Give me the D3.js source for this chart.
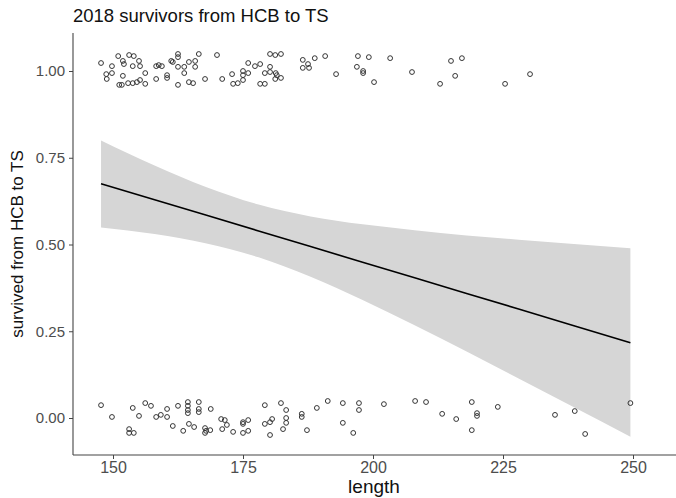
<!DOCTYPE html>
<html>
<head>
<meta charset="utf-8">
<script src="https://cdn.jsdelivr.net/npm/d3@7"></script>
<style>
  html, body { margin: 0; padding: 0; background: #fff; }
  svg { display: block; font-family: "Liberation Sans", Arial, sans-serif; }
</style>
</head>
<body>
<svg id="chart" width="676" height="498"></svg>
<script>
// Fish that reached TS (survived = 1), jittered vertically around 1
const lengthSurvived = [
  147.7, 151.0, 151.9, 152.1, 153.1, 154.0, 149.8, 153.8, 155.0, 155.2, 148.7,
  149.8, 148.8, 151.9, 156.2, 151.2, 151.7, 152.9, 153.8, 154.6, 155.2, 156.2,
  158.3, 158.8, 159.4, 158.3, 160.4, 160.4, 162.5, 162.5, 161.2, 161.5, 162.5,
  163.7, 164.6, 165.8, 165.8, 162.5, 163.7, 164.6, 165.4, 166.5, 167.7,
  170.0, 171.0, 172.9, 173.1, 174.0, 175.0, 175.0, 175.0, 176.0, 177.3, 178.3,
  176.0, 178.3, 179.2, 179.2, 180.2, 181.3, 180.2, 180.2, 181.2, 182.3, 182.3,
  181.2, 181.5,
  186.5, 187.5, 186.5, 187.7, 188.8, 190.8, 192.9, 197.1, 199.2, 196.9, 198.1,
  198.1, 200.2, 203.3, 207.5, 212.9, 215.0, 217.1, 215.8, 225.4, 230.2
];
const jitterSurvived = [
  1.023, 1.043, 1.029, 1.020, 1.046, 1.043, 1.014, 1.014, 1.029, 1.014, 0.991,
  0.994, 0.977, 0.986, 0.994, 0.960, 0.960, 0.965, 0.965, 0.968, 0.974, 0.963,
  1.014, 1.017, 1.014, 0.977, 0.988, 0.980, 1.049, 1.040, 1.029, 1.026, 1.012,
  1.012, 1.026, 1.029, 1.012, 0.960, 0.994, 0.968, 0.965, 1.049, 0.977,
  1.046, 0.977, 0.991, 0.963, 0.965, 1.000, 0.988, 0.974, 1.023, 1.014, 1.020,
  0.994, 0.963, 0.963, 0.994, 0.997, 0.994, 1.012, 1.049, 1.046, 1.049, 0.980,
  0.977, 0.988,
  1.032, 1.020, 1.009, 1.009, 1.037, 1.043, 0.991, 1.043, 1.040, 1.012, 1.000,
  0.994, 0.968, 1.037, 0.997, 0.963, 1.029, 1.037, 0.986, 0.963, 0.991
];

// Fish that did not reach TS (survived = 0), jittered vertically around 0
const lengthDied = [
  147.7, 149.8, 153.1, 153.1, 154.0, 153.8, 155.0, 156.2, 157.3, 158.3, 159.2,
  160.4, 160.4, 161.5, 162.5, 163.5,
  164.4, 164.4, 164.4, 164.4, 164.6, 165.6, 166.5, 166.5, 166.5, 167.7, 167.7,
  167.9, 168.7, 168.8,
  170.8, 171.5, 171.0, 171.9, 173.1, 175.0, 175.0, 176.0, 175.0, 176.0, 179.2,
  179.2, 180.2, 180.6, 180.2, 182.3, 183.3, 183.3, 183.3, 182.7,
  186.3, 186.3, 187.3, 189.2, 191.3, 194.2, 194.2, 196.2, 197.3, 197.3, 202.1,
  208.1, 210.2, 213.3, 216.0, 219.0, 220.0, 220.0, 219.0, 224.0, 235.0, 238.8,
  240.8, 249.5
];
const jitterDied = [
  0.037, 0.003, -0.032, -0.043, -0.043, 0.029, 0.006, 0.043, 0.035, 0.003, 0.009,
  0.003, 0.026, -0.023, 0.035, -0.037,
  0.046, 0.035, 0.023, 0.014, -0.017, -0.026, 0.046, 0.026, 0.017, -0.029, -0.043,
  -0.037, -0.035, 0.026,
  -0.003, -0.006, -0.032, -0.020, -0.040, -0.012, -0.017, -0.006, -0.043, -0.037, 0.037,
  -0.017, -0.012, -0.003, -0.049, 0.043, 0.023, 0.000, -0.014, -0.032,
  0.012, 0.003, -0.035, 0.029, 0.049, 0.043, -0.014, -0.043, 0.043, 0.023, 0.040,
  0.049, 0.046, 0.012, -0.003, 0.046, 0.014, 0.006, -0.035, 0.032, 0.009, 0.020,
  -0.046, 0.043
];

// Linear fit and its 95% confidence band, sampled along length
const bandLength = [147.7, 158, 168, 178, 188, 198, 208, 218, 228, 238, 249.5];
const fitValue   = [0.675, 0.629, 0.584, 0.539, 0.494, 0.449, 0.404, 0.359, 0.314, 0.269, 0.217];
const bandLower  = [0.549, 0.530, 0.503, 0.463, 0.407, 0.340, 0.267, 0.192, 0.114, 0.036, -0.054];
const bandUpper  = [0.800, 0.728, 0.665, 0.615, 0.581, 0.558, 0.541, 0.526, 0.514, 0.502, 0.489];

const xTicks = [150, 175, 200, 225, 250];
const yTicks = [0, 0.25, 0.5, 0.75, 1];
const yTickLabels = ["0.00", "0.25", "0.50", "0.75", "1.00"];

const svg = d3.select("#chart");
const panel = { left: 73, right: 676, top: 33, bottom: 455 };

const x = d3.scaleLinear().domain([150, 250]).range([113, 633]);
const y = d3.scaleLinear().domain([0, 1]).range([418, 71]);

// confidence band
const bandRows = bandLength.map((l, i) => ({ l, lo: bandLower[i], hi: bandUpper[i], fit: fitValue[i] }));
svg.append("path")
  .datum(bandRows)
  .attr("fill", "#d6d6d6")
  .attr("d", d3.area().curve(d3.curveMonotoneX)
    .x(d => x(d.l)).y0(d => y(d.lo)).y1(d => y(d.hi)));

// fitted line
svg.append("path")
  .datum(bandRows)
  .attr("fill", "none")
  .attr("stroke", "#000")
  .attr("stroke-width", 1.6)
  .attr("d", d3.line().x(d => x(d.l)).y(d => y(d.fit)));

// jittered points
const pts = lengthSurvived.map((l, i) => [l, jitterSurvived[i]])
  .concat(lengthDied.map((l, i) => [l, jitterDied[i]]));
svg.append("g").selectAll("circle")
  .data(pts)
  .join("circle")
  .attr("cx", d => x(d[0]))
  .attr("cy", d => y(d[1]))
  .attr("r", 2.4)
  .attr("fill", "none")
  .attr("stroke", "#333")
  .attr("stroke-width", 1);

// axes
const xAxis = d3.axisBottom(x).tickValues(xTicks).tickSize(4).tickPadding(3).tickFormat(d3.format("d"));
const gx = svg.append("g").attr("transform", `translate(0,${panel.bottom})`).call(xAxis);
gx.select(".domain").remove();
gx.append("line").attr("x1", panel.left).attr("x2", panel.right)
  .attr("stroke", "#444").attr("stroke-width", 1.1);
gx.selectAll(".tick line").attr("stroke", "#444");
gx.selectAll(".tick text").attr("fill", "#4d4d4d").attr("font-size", 16)
  .attr("font-family", "Liberation Sans, Arial, sans-serif");

const yAxis = d3.axisLeft(y).tickValues(yTicks).tickSize(4).tickPadding(4)
  .tickFormat((d, i) => yTickLabels[i]);
const gy = svg.append("g").attr("transform", `translate(${panel.left},0)`).call(yAxis);
gy.select(".domain").remove();
gy.append("line").attr("y1", panel.top).attr("y2", panel.bottom)
  .attr("stroke", "#444").attr("stroke-width", 1.1);
gy.selectAll(".tick line").attr("stroke", "#444");
gy.selectAll(".tick text").attr("fill", "#4d4d4d").attr("font-size", 15)
  .attr("font-family", "Liberation Sans, Arial, sans-serif");

// titles
svg.append("text").attr("x", 73).attr("y", 22)
  .attr("font-size", 18.5).attr("fill", "#111")
  .text("2018 survivors from HCB to TS");
svg.append("text").attr("x", 374).attr("y", 493)
  .attr("text-anchor", "middle").attr("font-size", 19).attr("fill", "#111")
  .text("length");
svg.append("text")
  .attr("transform", `translate(23,${(panel.top + panel.bottom) / 2}) rotate(-90)`)
  .attr("text-anchor", "middle").attr("font-size", 17).attr("fill", "#111")
  .text("survived from HCB to TS");
</script>
</body>
</html>
